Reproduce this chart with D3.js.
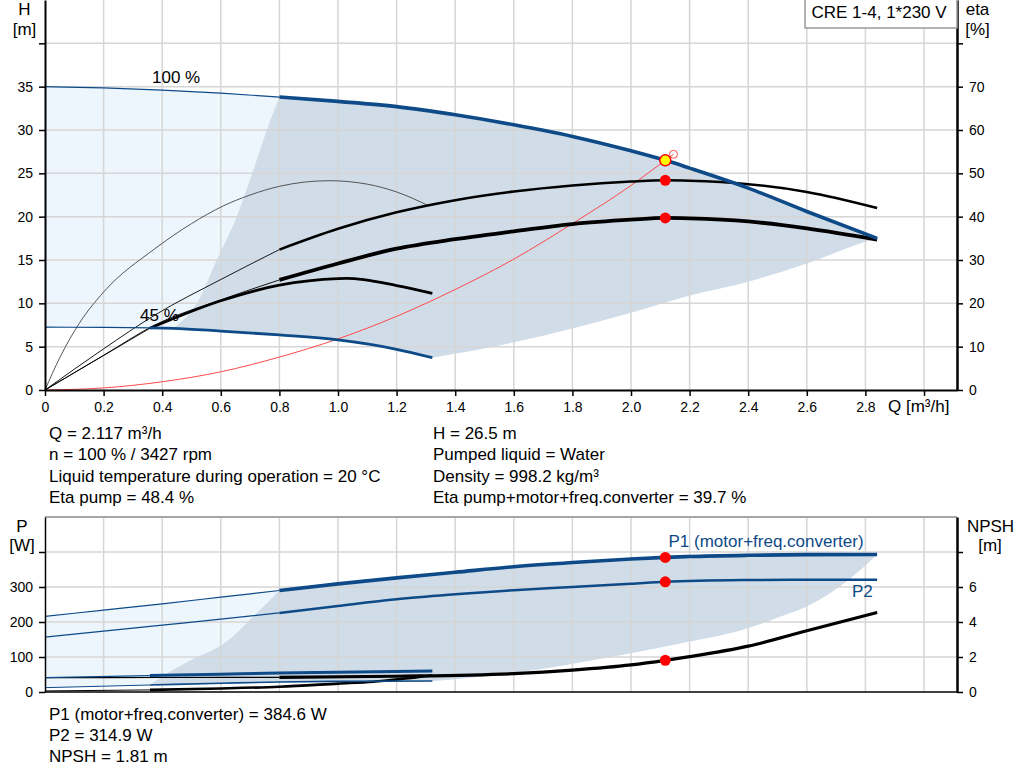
<!DOCTYPE html>
<html>
<head>
<meta charset="utf-8">
<script src="https://cdn.jsdelivr.net/npm/d3@7"></script>
<style>
  body { margin: 0; background: #fff; }
  svg text { font-family: "Liberation Sans", Arial, sans-serif; }
</style>
</head>
<body>
<div id="chart"></div>
<script>

// every pair is [Q (m3/h), value]
// head curves (m)
const qhFull = [[0,35],[0.2,34.85],[0.4,34.6],[0.6,34.25],[0.8,33.8],[1.0,33.3],[1.2,32.7],[1.4,31.75],[1.6,30.6],[1.8,29.26],[2.0,27.6],[2.117,26.5],[2.2,25.6],[2.4,23.3],[2.6,20.6],[2.84,17.5]];
const qh45 = [[0,7.25],[0.2,7.22],[0.358,7.17],[0.438,7.12],[0.6,6.8],[0.8,6.35],[1.0,5.78],[1.2,4.7],[1.322,3.73]];
const systemCurve = [[0,0],[0.2,0.24],[0.4,0.95],[0.6,2.1],[0.8,3.8],[1.0,5.9],[1.2,8.5],[1.4,11.6],[1.6,15.1],[1.8,19.2],[2.0,23.6],[2.117,26.5],[2.145,27.2]];

// efficiency curves (%)
const etaPump100 = [[0,0],[0.2,9.5],[0.375,17.3],[0.6,25.5],[0.8,32.4],[1.0,37.2],[1.2,41.0],[1.4,43.8],[1.6,45.8],[1.8,47.2],[2.0,48.1],[2.117,48.4],[2.2,48.3],[2.4,47.5],[2.6,45.7],[2.84,42.0]];
const etaTotal100 = [[0,0],[0.2,8],[0.375,15],[0.6,20.8],[0.8,25.4],[1.0,29.2],[1.2,32.6],[1.4,34.8],[1.6,36.6],[1.8,38.3],[2.0,39.3],[2.117,39.7],[2.2,39.6],[2.4,38.9],[2.6,37.3],[2.84,34.7]];
const etaPump45 = [[0,0],[0.05,7.4],[0.119,15.6],[0.2,22.6],[0.375,32.6],[0.5,38.4],[0.609,42.5],[0.7,45.0],[0.8,47.0],[0.97,48.3],[1.1,47.5],[1.2,45.7],[1.31,42.5]];
const etaTotal45 = [[0,0],[0.358,14.25],[0.6,20.6],[0.8,24.2],[1.0,25.7],[1.03,25.75],[1.2,24.1],[1.322,22.3]];

// borders of the shaded operating range (m)
const hLeftBound = [[0.8,33.8],[0.757,30],[0.711,25.4],[0.654,20],[0.586,15],[0.518,10],[0.438,7.12]];
const hRightBound = [[2.84,17.5],[2.8,17.1],[2.6,14.6],[2.4,12.5],[2.2,10.9],[2.0,8.9],[1.8,7.1],[1.6,5.5],[1.322,3.73]];

// power curves (W) and NPSH (m)
const p1Full = [[0,216],[0.2,234],[0.4,252],[0.6,271],[0.8,290],[1.0,309],[1.2,326],[1.4,342],[1.6,358],[1.8,370],[2.0,380],[2.117,384.6],[2.2,387],[2.4,390.5],[2.6,392.5],[2.84,393]];
const p2Full = [[0,157],[0.2,174],[0.4,191],[0.6,208],[0.8,226],[1.0,246],[1.2,265],[1.4,279],[1.6,291],[1.8,300],[2.0,309],[2.117,314.9],[2.4,320],[2.6,321],[2.84,321]];
const p1Part = [[0,41],[0.358,47],[0.6,51],[0.8,54],[1.0,56.5],[1.322,60]];
const p2Part = [[0,12.4],[0.358,20],[0.6,25],[0.8,28.5],[1.0,30.5],[1.322,31.5]];
const npshFull = [[0,0.82],[0.4,0.83],[0.8,0.84],[1.2,0.9],[1.6,1.05],[1.8,1.25],[2.0,1.55],[2.117,1.81],[2.2,2.02],[2.4,2.62],[2.6,3.5],[2.84,4.54]];
const npshPart = [[0,0.06],[0.358,0.12],[0.6,0.2],[0.8,0.3],[1.0,0.48],[1.12,0.59],[1.322,0.94]];

const pLeftBound = [[0.8,290],[0.711,216],[0.62,144],[0.495,90],[0.42,55],[0.38,33],[0.358,20]];
const pRightBound = [[2.84,393],[2.743,321],[2.618,252],[2.5,212],[2.39,180],[2.163,138],[1.935,101],[1.594,53.6],[1.42,38],[1.322,31.5]];

// duty point
const dutyQ = 2.117;
const dutyH = 26.5;
const dutyEta = [48.4, 39.7];
const dutyPower = [384.6, 314.9];
const dutyNpsh = 1.81;
const systemEnd = [2.145, 27.2];

// ticks
const qTicks = [0,0.2,0.4,0.6,0.8,1.0,1.2,1.4,1.6,1.8,2.0,2.2,2.4,2.6,2.8,3.0];
const hTicks = [0,5,10,15,20,25,30,35,40];
const etaTicks = [0,10,20,30,40,50,60,70,80];
const pTicks = [0,100,200,300,400];
const npshTicks = [0,2,4,6,8];

const infoLeft = ["Q = 2.117 m³/h", "n = 100 % / 3427 rpm", "Liquid temperature during operation = 20 °C", "Eta pump = 48.4 %"];
const infoRight = ["H = 26.5 m", "Pumped liquid = Water", "Density = 998.2 kg/m³", "Eta pump+motor+freq.converter = 39.7 %"];
const infoPower = ["P1 (motor+freq.converter) = 384.6 W", "P2 = 314.9 W", "NPSH = 1.81 m"];

const blue = "#0d4a87";
const darkFill = "#d0dce8";
const lightFill = "#edf5fd";
const gridColor = "#d6d6d6";

let svg = d3.select("#chart").append("svg")
	.attr("width", 1024)
	.attr("height", 781);

let x = d3.scaleLinear().domain([0, 3.1126]).range([45, 957]);
let yH = d3.scaleLinear().domain([0, 45]).range([390, 0]);
let yEta = d3.scaleLinear().domain([0, 90]).range([390, 0]);
let yP = d3.scaleLinear().domain([0, 500]).range([692, 517]);
let yN = d3.scaleLinear().domain([0, 10]).range([692, 517]);

svg.append("clipPath").attr("id", "clipTop")
	.append("rect").attr("x", 45).attr("y", 0).attr("width", 912).attr("height", 390);
svg.append("clipPath").attr("id", "clipBottom")
	.append("rect").attr("x", 45).attr("y", 517).attr("width", 912).attr("height", 175);

function linePath(pts, y) {
	return d3.line()
		.x(d => x(d[0]))
		.y(d => y(d[1]))
		.curve(d3.curveMonotoneX)(pts);
}

// glue several curve pieces to one closed outline
function outline(parts, y) {
	return parts.map((p, i) => {
		let s = linePath(p, y);
		return i ? s.replace(/^M/, "L") : s;
	}).join("") + "Z";
}

let shadeTop = svg.append("g").attr("clip-path", "url(#clipTop)");
let shadeBottom = svg.append("g").attr("clip-path", "url(#clipBottom)");

// shaded areas
shadeTop.append("path")
	.attr("d", outline([qhFull.filter(d => d[0] <= 0.8), hLeftBound, qh45.filter(d => d[0] <= 0.438).reverse()], yH))
	.attr("fill", lightFill);
shadeTop.append("path")
	.attr("d", outline([qhFull.filter(d => d[0] >= 0.8), hRightBound, qh45.filter(d => d[0] >= 0.438).reverse(), hLeftBound.slice().reverse()], yH))
	.attr("fill", darkFill);

shadeBottom.append("path")
	.attr("d", outline([p1Full.filter(d => d[0] <= 0.8), pLeftBound, p2Part.filter(d => d[0] <= 0.358).reverse()], yP))
	.attr("fill", lightFill);
shadeBottom.append("path")
	.attr("d", outline([p1Full.filter(d => d[0] >= 0.8), pRightBound, p2Part.filter(d => d[0] >= 0.358).reverse(), pLeftBound.slice().reverse()], yP))
	.attr("fill", darkFill);

// grid
qTicks.slice(1).forEach(q => {
	svg.append("line").attr("x1", x(q)).attr("x2", x(q)).attr("y1", 0).attr("y2", 390)
		.attr("stroke", gridColor).attr("stroke-width", 1.5);
	svg.append("line").attr("x1", x(q)).attr("x2", x(q)).attr("y1", 517).attr("y2", 692)
		.attr("stroke", gridColor).attr("stroke-width", 1.5);
});
hTicks.slice(1).forEach(h => {
	svg.append("line").attr("x1", 45).attr("x2", 957).attr("y1", yH(h)).attr("y2", yH(h))
		.attr("stroke", gridColor).attr("stroke-width", 1.5);
});
pTicks.slice(1).forEach(p => {
	svg.append("line").attr("x1", 45).attr("x2", 957).attr("y1", yP(p)).attr("y2", yP(p))
		.attr("stroke", gridColor).attr("stroke-width", 1.5);
});

let topG = svg.append("g").attr("clip-path", "url(#clipTop)");
let bottomG = svg.append("g").attr("clip-path", "url(#clipBottom)");

// thin part up to "cut", thick part after it
function curve(g, pts, y, color, thin, thick, cut) {
	if (cut == null) {
		g.append("path").attr("d", linePath(pts, y))
			.attr("fill", "none").attr("stroke", color).attr("stroke-width", thin);
		return;
	}
	g.append("path").attr("d", linePath(pts.filter(d => d[0] <= cut), y))
		.attr("fill", "none").attr("stroke", color).attr("stroke-width", thin);
	g.append("path").attr("d", linePath(pts.filter(d => d[0] >= cut), y))
		.attr("fill", "none").attr("stroke", color).attr("stroke-width", thick);
}

curve(topG, systemCurve, yH, "#ff4a4a", 1);
curve(topG, etaPump45, yEta, "#444", 0.9);
curve(topG, etaTotal45, yEta, "#000", 0.9, 2.8, 0.358);
curve(topG, etaPump100, yEta, "#000", 0.9, 2.5, 0.8);
curve(topG, etaTotal100, yEta, "#000", 0.9, 3.8, 0.8);
curve(topG, qh45, yH, blue, 1.2, 2.8, 0.358);
curve(topG, qhFull, yH, blue, 1.2, 3.6, 0.8);

curve(bottomG, npshPart, yN, "#000", 1, 2.6, 0.358);
curve(bottomG, npshFull, yN, "#000", 1.2, 3.2, 0.8);
curve(bottomG, p2Part, yP, blue, 1, 1.6, 0.358);
curve(bottomG, p1Part, yP, blue, 1.2, 3, 0.358);
curve(bottomG, p2Full, yP, blue, 1.2, 2.5, 0.8);
curve(bottomG, p1Full, yP, blue, 1.2, 3.6, 0.8);

// duty point markers
topG.append("circle").attr("cx", x(systemEnd[0])).attr("cy", yH(systemEnd[1])).attr("r", 4)
	.attr("fill", "none").attr("stroke", "#ff4a4a").attr("stroke-width", 1);
topG.selectAll(".etaDot").data(dutyEta).enter().append("circle")
	.attr("cx", x(dutyQ)).attr("cy", d => yEta(d)).attr("r", 5.5).attr("fill", "#ff0000");
topG.append("circle").attr("cx", x(dutyQ)).attr("cy", yH(dutyH)).attr("r", 5.5)
	.attr("fill", "#ffff00").attr("stroke", "#ff0000").attr("stroke-width", 1.5);
bottomG.selectAll(".pDot").data(dutyPower).enter().append("circle")
	.attr("cx", x(dutyQ)).attr("cy", d => yP(d)).attr("r", 5.5).attr("fill", "#ff0000");
bottomG.append("circle").attr("cx", x(dutyQ)).attr("cy", yN(dutyNpsh)).attr("r", 5.5).attr("fill", "#ff0000");

// axes
function styleAxis(g, w) {
	g.select(".domain").attr("stroke", "#000").attr("stroke-width", w);
	g.selectAll(".tick line").attr("stroke", "#000").attr("stroke-width", 1.5);
	g.selectAll("text").attr("font-family", "DejaVu Sans").attr("font-size", 14).attr("fill", "#000");
}

svg.append("g").attr("transform", "translate(45,0)")
	.call(d3.axisLeft(yH).tickValues(hTicks).tickFormat(d => d <= 35 ? d : "").tickSize(6).tickPadding(6).tickSizeOuter(0))
	.call(g => styleAxis(g, 2));
svg.append("g").attr("transform", "translate(957,0)")
	.call(d3.axisRight(yEta).tickValues(etaTicks).tickFormat(d => d <= 70 ? d : "").tickSize(6).tickPadding(6).tickSizeOuter(0))
	.call(g => styleAxis(g, 2.5));
svg.append("g").attr("transform", "translate(0,390)")
	.call(d3.axisBottom(x).tickValues(qTicks).tickFormat(d => d > 2.9 ? "" : (d === 0 ? "0" : d.toFixed(1))).tickSize(6).tickPadding(6).tickSizeOuter(0))
	.call(g => styleAxis(g, 2));

svg.append("line").attr("x1", 45).attr("x2", 957).attr("y1", 517).attr("y2", 517)
	.attr("stroke", "#a6a6a6").attr("stroke-width", 2);
svg.append("line").attr("x1", 45).attr("x2", 957).attr("y1", 692).attr("y2", 692)
	.attr("stroke", "#000").attr("stroke-width", 1.5);
svg.append("g").attr("transform", "translate(45,0)")
	.call(d3.axisLeft(yP).tickValues(pTicks).tickFormat(d => d <= 300 ? d : "").tickSize(6).tickPadding(6).tickSizeOuter(0))
	.call(g => styleAxis(g, 1.5));
svg.append("g").attr("transform", "translate(957,0)")
	.call(d3.axisRight(yN).tickValues(npshTicks).tickFormat(d => d <= 6 ? d : "").tickSize(6).tickPadding(6).tickSizeOuter(0))
	.call(g => styleAxis(g, 2.5));

// axis titles
function label(txt, tx, ty, anchor, color) {
	svg.append("text").attr("x", tx).attr("y", ty)
		.attr("text-anchor", anchor || "start")
		.attr("font-size", 17)
		.attr("fill", color || "#000")
		.text(txt);
}

label("H", 24.5, 15, "middle");
label("[m]", 24.5, 35, "middle");
label("eta", 977.5, 15, "middle");
label("[%]", 977.5, 35, "middle");
label("Q [m³/h]", 888, 412);
label("P", 22, 532, "middle");
label("[W]", 22, 551, "middle");
label("NPSH", 990.5, 532, "middle");
label("[m]", 990, 551, "middle");

// curve labels
label("100 %", 152, 83);
label("45 %", 140, 321);
label("P1 (motor+freq.converter)", 668.5, 547, "start", blue);
label("P2", 852, 597, "start", blue);

// title box
svg.append("rect").attr("x", 805).attr("y", -1).attr("width", 152).attr("height", 29)
	.attr("fill", "#fff").attr("stroke", "#9a9a9a").attr("stroke-width", 1.5);
label("CRE 1-4, 1*230 V", 811.5, 18);

// readings below the charts
infoLeft.forEach((t, i) => label(t, 49, 439 + i * 21.3));
infoRight.forEach((t, i) => label(t, 433, 439 + i * 21.3));
infoPower.forEach((t, i) => label(t, 49, 720 + i * 21));

</script>
</body>
</html>
